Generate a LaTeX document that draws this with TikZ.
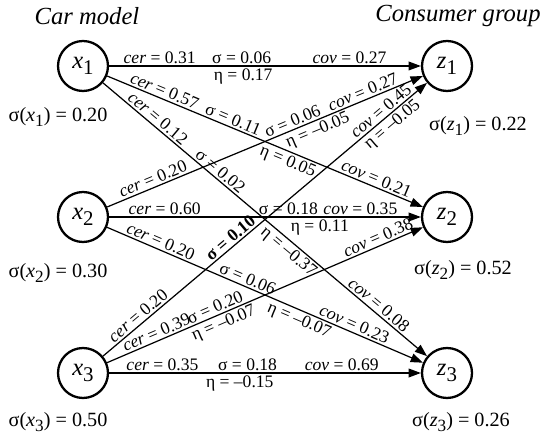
\documentclass[tikz,border=0pt]{standalone}
\usepackage{fontspec}
\setmainfont{Liberation Serif}
\usetikzlibrary{arrows.meta}
\newcommand{\lowidx}[1]{\raisebox{-0.55ex}{\scalebox{0.85}{#1}}}
\newcommand{\cer}{\textit{cer}}
\newcommand{\cov}{\textit{cov}}
\tikzset{
  >={Triangle[length=7pt,width=5pt]},
  % nodi (modelli e gruppi)
  item/.style={circle,draw,line width=1.3pt,minimum size=1cm,inner sep=0pt,font=\fontsize{14}{14}\selectfont},
  % connessioni
  link/.style={->,line width=0.7pt},
  lab/.style={sloped,font=\fontsize{10}{10}\selectfont,inner sep=1.1pt},
  stat/.style={font=\fontsize{11.5}{12}\selectfont},
  head/.style={font=\fontsize{14}{14}\selectfont\itshape}
}
\begin{document}
\begin{tikzpicture}[x=0.02cm,y=-0.02cm]
  \useasboundingbox (0,0) rectangle (543,448);
  % titoli
  \node[head] (carlbl) at (87,16) {Car model};
  \node[head] (grplbl) at (458,16) {Consumer group};
  % modelli
  \node[item] (x1) at (83,66) {\textit{x}\lowidx{1}};
  \node[item] (x2) at (83,217) {\textit{x}\lowidx{2}};
  \node[item] (x3) at (83,373) {\textit{x}\lowidx{3}};
  % gruppi
  \node[item] (z1) at (447,66) {\textit{z}\lowidx{1}};
  \node[item] (z2) at (447,217) {\textit{z}\lowidx{2}};
  \node[item] (z3) at (447,373) {\textit{z}\lowidx{3}};
  % sigma dei nodi
  \node[stat] (sx1) at (58,117) {σ(\textit{x}\lowidx{1}) = 0.20};
  \node[stat] (sx2) at (58,273) {σ(\textit{x}\lowidx{2}) = 0.30};
  \node[stat] (sx3) at (58,422) {σ(\textit{x}\lowidx{3}) = 0.50};
  \node[stat] (sz1) at (478,126) {σ(\textit{z}\lowidx{1}) = 0.22};
  \node[stat] (sz2) at (463,270) {σ(\textit{z}\lowidx{2}) = 0.52};
  \node[stat] (sz3) at (461,422) {σ(\textit{z}\lowidx{3}) = 0.26};
  % archi da x1
  \draw[link] (x1) -- (z1)
    node[lab,above,pos=0.162] {\cer{} = 0.31}
    node[lab,above,pos=0.425] {σ = 0.06}
    node[lab,above,pos=0.771] {\cov{} = 0.27}
    node[lab,below,pos=0.43] {η = 0.17};
  \draw[link] (x1) -- (z2)
    node[lab,above,pos=0.172] {\cer{} = 0.57}
    node[lab,above,pos=0.389] {σ = 0.11}
    node[lab,below,pos=0.584] {η = 0.05}
    node[lab,above,pos=0.843] {\cov{} = 0.21};
  \draw[link] (x1) -- (z3)
    node[lab,above,pos=0.153] {\cer{} = 0.12}
    node[lab,above,pos=0.346] {σ = 0.02}
    node[lab,below,pos=0.592] {η = --0.37}
    node[lab,above,pos=0.835] {\cov{} = 0.08};
  % archi da x2
  \draw[link] (x2) -- (z1)
    node[lab,above,pos=0.155] {\cer{} = 0.20}
    node[lab,above,pos=0.597] {σ = 0.06}
    node[lab,above,pos=0.82] {\cov{} = 0.27}
    node[lab,below,pos=0.655] {η = --0.05};
  \draw[link] (x2) -- (z2)
    node[lab,above,pos=0.178] {\cer{} = 0.60}
    node[lab,above,pos=0.575] {σ = 0.18}
    node[lab,above,pos=0.806] {\cov{} = 0.35}
    node[lab,below,pos=0.676] {η = 0.11};
  \draw[link] (x2) -- (z3)
    node[lab,above,pos=0.16] {\cer{} = 0.20}
    node[lab,above,pos=0.435] {σ = 0.06}
    node[lab,below,pos=0.62] {η = --0.07}
    node[lab,above,pos=0.773] {\cov{} = 0.23};
  % archi da x3
  \draw[link] (x3) -- (z1)
    node[lab,above,pos=0.125] {\cer{} = 0.20}
    node[lab,above,pos=0.41] {\textbf{σ = 0.10}}
    node[lab,above,pos=0.874] {\cov{} = 0.45}
    node[lab,below,pos=0.874] {η = --0.05};
  \draw[link] (x3) -- (z2)
    node[lab,above,pos=0.167] {\cer{} = 0.39}
    node[lab,above,pos=0.352] {σ = 0.20}
    node[lab,below,pos=0.357] {η = --0.07}
    node[lab,above,pos=0.868] {\cov{} = 0.38};
  \draw[link] (x3) -- (z3)
    node[lab,above,pos=0.171] {\cer{} = 0.35}
    node[lab,above,pos=0.444] {σ = 0.18}
    node[lab,above,pos=0.746] {\cov{} = 0.69}
    node[lab,below,pos=0.419] {η = --0.15};
\end{tikzpicture}
\end{document}
